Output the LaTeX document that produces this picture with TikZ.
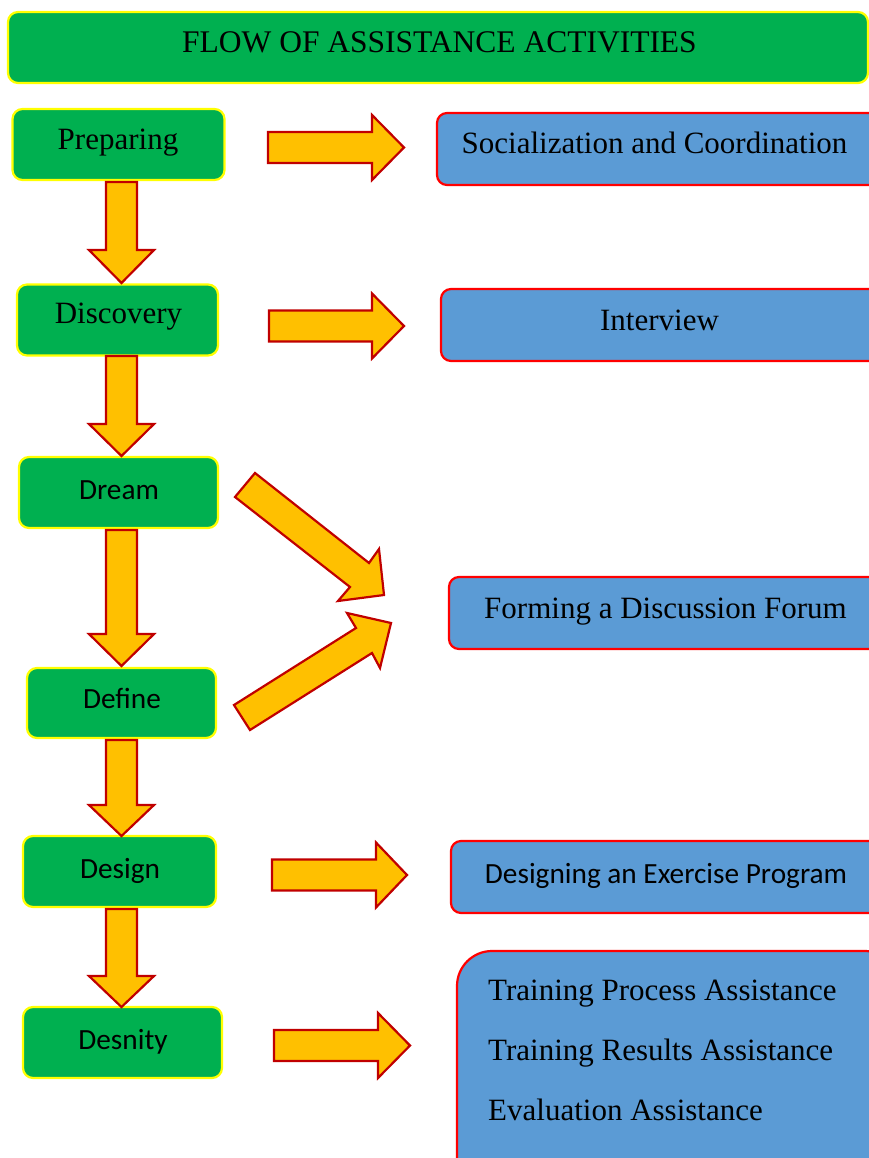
\documentclass[tikz,border=0pt]{standalone}
\usepackage{fontspec}
\setmainfont{Liberation Serif}
\newfontfamily\calib{Carlito}
\definecolor{boxgreen}{HTML}{00B050}
\definecolor{boxyellow}{HTML}{FFFF00}
\definecolor{boxblue}{HTML}{5B9BD5}
\definecolor{boxred}{HTML}{FF0000}
\definecolor{arrowfill}{HTML}{FFC000}
\definecolor{arrowline}{HTML}{C00000}
\tikzset{
  gbox/.style={draw=boxyellow, fill=boxgreen, line width=2.2pt, rounded corners=10pt, inner sep=0pt},
  bbox/.style={draw=boxred, fill=boxblue, line width=2.2pt, rounded corners=10pt},
  bigbox/.style={draw=boxred, fill=boxblue, line width=2.2pt, rounded corners=35pt},
  blockarrow/.style={draw=arrowline, fill=arrowfill, line width=2.2pt, line join=miter},
  sertext/.style={anchor=base, inner sep=0pt, font=\fontsize{31}{36}\selectfont},
  sanstext/.style={anchor=base, inner sep=0pt, font=\calib\fontsize{29.3}{34}\selectfont},
  lefttext/.style={anchor=base west, inner sep=0pt, font=\fontsize{31}{36}\selectfont},
}
\newcommand\downblock[3]{% top, head base, tip
  \path[blockarrow] (106,#1) -- (137,#1) -- (137,#2) -- (154,#2) -- (121.5,#3) -- (89,#2) -- (106,#2) -- cycle;}
\newcommand\rightblock[4]{% x start, head x, tip x, center y
  \path[blockarrow] (#1,#4-15.5) -- (#2,#4-15.5) -- (#2,#4-32.5) -- (#3,#4) -- (#2,#4+32.5) -- (#2,#4+15.5) -- (#1,#4+15.5) -- cycle;}
\begin{document}
\begin{tikzpicture}[x=1pt,y=-1pt]
\useasboundingbox (0,0) rectangle (869,1158);
\clip (0,0) rectangle (869,1158);

% title
\node[gbox, minimum width=860pt, minimum height=71pt] (titlebox) at (438,47.5) {};
\node[sertext, font=\fontsize{31.5}{36}\selectfont] (title) at (439.5,53) {FLOW OF ASSISTANCE ACTIVITIES};

% left boxes
\node[gbox, minimum width=212pt, minimum height=71pt] (prep) at (118.5,144.5) {};
\node[sertext] (prept) at (118,150) {Preparing};
\node[gbox, minimum width=201pt, minimum height=71pt] (disc) at (117.5,320) {};
\node[sertext] (disct) at (118.5,323) {Discovery};
\node[gbox, minimum width=199pt, minimum height=71pt] (dream) at (118.5,492.5) {};
\node[sanstext] (dreamt) at (119,499) {Dream};
\node[gbox, minimum width=189pt, minimum height=70pt] (define) at (121.5,703) {};
\node[sanstext] (definet) at (122,708) {Define};
\node[gbox, minimum width=193pt, minimum height=71pt] (design) at (119.5,871.5) {};
\node[sanstext] (designt) at (120,878) {Design};
\node[gbox, minimum width=199pt, minimum height=71pt] (desnity) at (122.5,1042.5) {};
\node[sanstext] (desnityt) at (123,1049) {Desnity};

% right boxes (run past the right edge)
\path[bbox] (437,113) rectangle (900,185);
\node[sertext] (soc) at (654.5,154) {Socialization and Coordination};
\path[bbox] (441,289) rectangle (900,361);
\node[sertext] (inter) at (659.5,330) {Interview};
\path[bbox] (449,577) rectangle (900,649);
\node[sertext] (forum) at (665.5,618) {Forming a Discussion Forum};
\path[bbox] (451,841) rectangle (900,913);
\node[sanstext] (exer) at (666,883) {Designing an Exercise Program};
\path[bigbox] (457,951) rectangle (900,1220);
\node[lefttext] (tpa) at (488,1000) {Training Process Assistance};
\node[lefttext] (tra) at (488,1060) {Training Results Assistance};
\node[lefttext] (eva) at (488,1120) {Evaluation Assistance};

% down block arrows
\downblock{182}{250}{283}
\downblock{356}{424}{456}
\downblock{530}{634}{666}
\downblock{740}{805}{836}
\downblock{909}{976}{1007}

% right block arrows
\rightblock{268}{372}{404}{147.5}
\rightblock{269}{372}{404}{326}
\rightblock{272}{376}{407}{875}
\rightblock{274}{378}{410}{1045.5}

% diagonal block arrows
\path[blockarrow] (255,473) -- (369,563) -- (379,549) -- (384,595) -- (338,601) -- (350,587) -- (235,497) -- cycle;
\path[blockarrow] (234,705) -- (356,628) -- (347,613) -- (391,623) -- (380,668) -- (372,653) -- (250,730) -- cycle;
\end{tikzpicture}
\end{document}
